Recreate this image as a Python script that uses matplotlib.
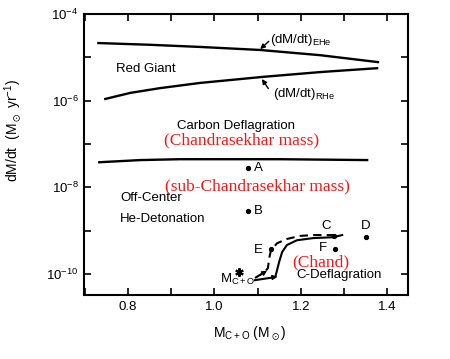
import numpy as np
import matplotlib
matplotlib.use('Agg')
import matplotlib.pyplot as plt

plt.rcParams['font.family'] = ['Liberation Sans', 'DejaVu Sans']
plt.rcParams['mathtext.default'] = 'regular'

# accretion-rate boundaries (log10 of dM/dt vs white dwarf mass)
ehe_mass = [0.731, 0.85, 0.967, 1.106, 1.245, 1.379]
ehe_lograte = [-4.67, -4.71, -4.76, -4.83, -4.95, -5.11]

rhe_mass = [0.747, 0.805, 0.874, 0.967, 1.113, 1.245, 1.377]
rhe_lograte = [-5.96, -5.82, -5.71, -5.59, -5.45, -5.34, -5.25]

chand_mass = [0.733, 0.828, 0.920, 1.152, 1.354]
chand_lograte = [-7.42, -7.37, -7.35, -7.35, -7.37]

# evolution tracks
solid_mass = [1.094, 1.141, 1.150, 1.157, 1.168, 1.191, 1.229, 1.275, 1.296]
solid_lograte = [-10.14, -10.07, -9.72, -9.49, -9.33, -9.22, -9.17, -9.15, -9.10]
dash_mass = [1.094, 1.117, 1.124, 1.127, 1.131, 1.145, 1.168, 1.198, 1.229, 1.275]
dash_lograte = [-10.09, -9.95, -9.86, -9.63, -9.45, -9.29, -9.19, -9.12, -9.10, -9.10]

# labelled models
model_names = ['A', 'B', 'C', 'D', 'E', 'F']
model_mass = [1.078, 1.078, 1.277, 1.351, 1.131, 1.280]
model_lograte = [-7.55, -8.55, -9.12, -9.15, -9.42, -9.42]
star_mass = 1.057
star_lograte = -9.95

xticks = [0.7, 0.8, 0.9, 1.0, 1.1, 1.2, 1.3, 1.4]
xticklabels = ['', '0.8', '', '1.0', '', '1.2', '', '1.4']
ydecades = [-10, -9, -8, -7, -6, -5, -4]

fig = plt.figure(figsize=(4.5, 3.59), dpi=100)
ax = fig.add_axes([0.187, 0.178, 0.720, 0.783])

lw = 1.7
ax.plot(ehe_mass, 10.0 ** np.array(ehe_lograte), color='black', lw=lw)
ax.plot(rhe_mass, 10.0 ** np.array(rhe_lograte), color='black', lw=lw)
ax.plot(chand_mass, 10.0 ** np.array(chand_lograte), color='black', lw=lw)
ax.plot(solid_mass, 10.0 ** np.array(solid_lograte), color='black', lw=1.5)
ax.plot(dash_mass, 10.0 ** np.array(dash_lograte), color='black', lw=1.5,
        ls=(0, (4, 2.5)))

arrow = dict(arrowstyle='-|>', color='black', lw=1, mutation_scale=7,
             shrinkA=0, shrinkB=0)

# small arrowheads on the tracks
ax.annotate('', xy=(1.122, 10 ** -9.92), xytext=(1.105, 10 ** -10.03), arrowprops=arrow)
ax.annotate('', xy=(1.146, 10 ** -10.06), xytext=(1.125, 10 ** -10.09), arrowprops=arrow)

for name, m, r in zip(model_names, model_mass, model_lograte):
    ax.plot(m, 10.0 ** r, 'o', color='black', ms=2.8)
ax.plot(star_mass, 10.0 ** star_lograte, marker=(6, 2, 0), color='black', ms=6, mew=1.5)

fs = 9.5
ax.text(1.092, 10 ** -7.55, 'A', fontsize=fs, va='center')
ax.text(1.092, 10 ** -8.55, 'B', fontsize=fs, va='center')
ax.text(1.259, 10 ** -8.90, 'C', fontsize=fs, va='center', ha='center')
ax.text(1.351, 10 ** -8.90, 'D', fontsize=fs, va='center', ha='center')
ax.text(1.101, 10 ** -9.45, 'E', fontsize=fs, va='center', ha='center')
ax.text(1.252, 10 ** -9.40, 'F', fontsize=fs, va='center', ha='center')

ax.text(0.772, 10 ** -5.27, 'Red Giant', fontsize=fs, va='center')
ax.text(1.129, 10 ** -4.60, r'(dM/dt)$_{EHe}$', fontsize=fs, va='center')
ax.annotate('', xy=(1.106, 10 ** -4.81), xytext=(1.126, 10 ** -4.63), arrowprops=arrow)
ax.text(1.136, 10 ** -5.84, r'(dM/dt)$_{RHe}$', fontsize=fs, va='center')
ax.annotate('', xy=(1.110, 10 ** -5.50), xytext=(1.125, 10 ** -5.72), arrowprops=arrow)
ax.text(1.050, 10 ** -6.59, 'Carbon Deflagration', fontsize=fs, va='center', ha='center')
ax.text(0.781, 10 ** -8.25, 'Off-Center', fontsize=fs, va='center')
ax.text(0.781, 10 ** -8.73, 'He-Detonation', fontsize=fs, va='center')
ax.text(1.189, 10 ** -10.03, 'C-Deflagration', fontsize=fs, va='center')
ax.text(1.013, 10 ** -10.12, r'M$_{C+O}$', fontsize=fs, va='center')

red = '#ff1010'
rfs = 12.5
ax.text(1.062, 10 ** -6.91, '(Chandrasekhar mass)', fontsize=rfs, color=red,
        family='Liberation Serif', va='center', ha='center')
ax.text(1.099, 10 ** -7.97, '(sub-Chandrasekhar mass)', fontsize=rfs, color=red,
        family='Liberation Serif', va='center', ha='center')
ax.text(1.247, 10 ** -9.73, '(Chand)', fontsize=rfs, color=red,
        family='Liberation Serif', va='center', ha='center')

ax.set_yscale('log')
ax.set_xlim(0.698, 1.449)
ax.set_ylim(10 ** -10.485, 1e-4)

ax.set_xticks(xticks)
ax.set_xticklabels(xticklabels)
ax.set_yticks([10.0 ** d for d in ydecades])
ax.set_yticklabels([r'$10^{%d}$' % d if d % 2 == 0 else '' for d in ydecades])
ax.yaxis.set_minor_locator(matplotlib.ticker.NullLocator())
ax.tick_params(direction='in', length=5, width=1.2, top=True, right=True,
               labelsize=9.5, pad=4)

for sp in ax.spines.values():
    sp.set_linewidth(1.5)

ax.set_xlabel(r'M$_{C+O}$ (M$_\odot$)', fontsize=10)
ax.xaxis.set_label_coords(0.51, -0.105)
ax.set_ylabel(r'dM/dt  (M$_\odot$ yr$^{-1}$)', fontsize=10)
ax.yaxis.set_label_coords(-0.185, 0.584)

fig.savefig('out.png', dpi=100)
